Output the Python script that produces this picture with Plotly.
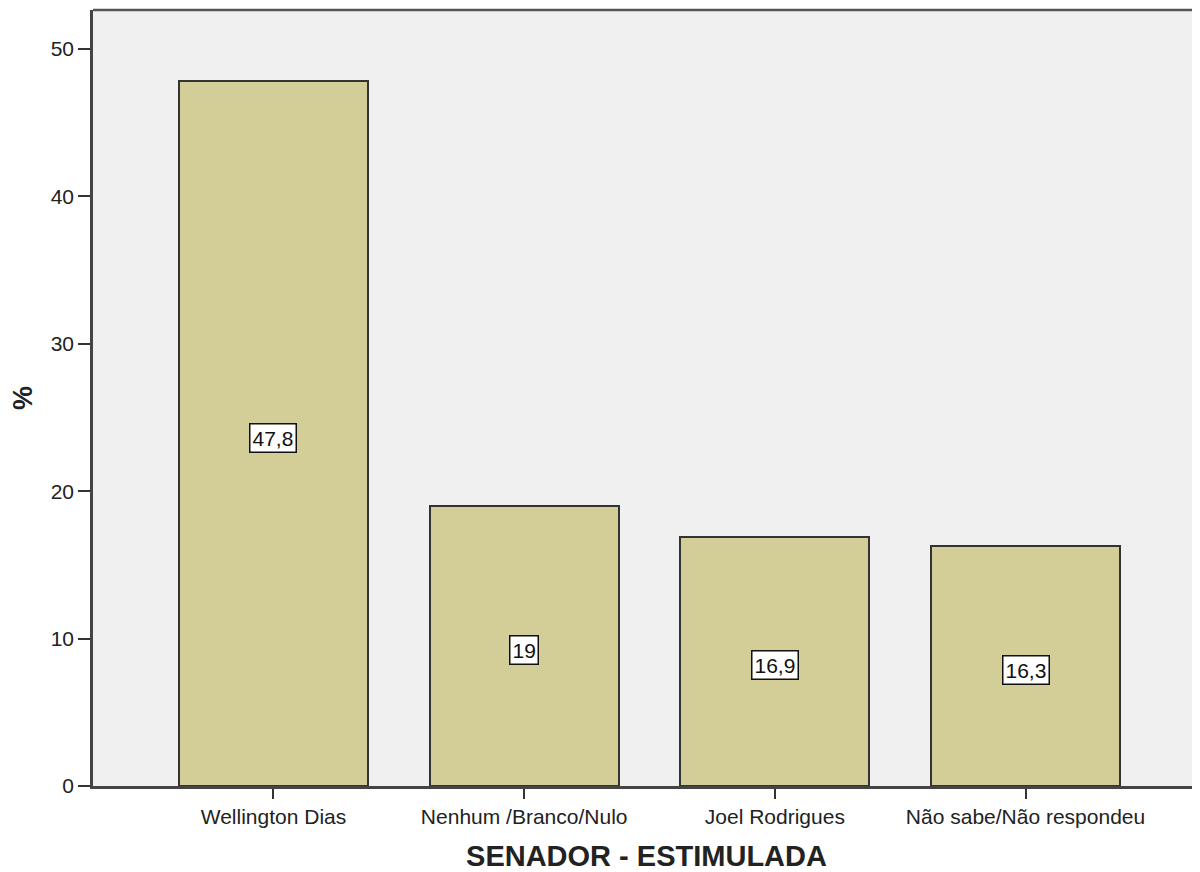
import plotly.graph_objects as go

categories = ["Wellington Dias", "Nenhum /Branco/Nulo", "Joel Rodrigues", "Não sabe/Não respondeu"]
values = [47.8, 19.0, 16.9, 16.3]
y_ticks = [0, 10, 20, 30, 40, 50]

def fmt(v):
    s = ("%.1f" % v).rstrip("0").rstrip(".")
    return s.replace(".", ",")

FONT = "Liberation Sans, Arial, sans-serif"

fig = go.Figure()
fig.add_trace(go.Bar(
    x=list(range(len(categories))),
    y=values,
    width=0.754,
    marker=dict(color="#D3CE98", line=dict(color="#333333", width=2)),
    hoverinfo="skip",
))

for i, v in enumerate(values):
    fig.add_annotation(
        x=i, y=v / 2, text=fmt(v), showarrow=False, yshift=-4,
        font=dict(family=FONT, size=21, color="#111"),
        bgcolor="white", bordercolor="#111", borderwidth=1.5, borderpad=2,
    )

fig.update_layout(
    width=1192, height=864,
    margin=dict(l=85, r=0, t=2, b=86),
    paper_bgcolor="white", plot_bgcolor="#F0F0F0",
    showlegend=False,
    bargap=0,
    font=dict(family=FONT, size=21, color="#222"),
    xaxis=dict(
        range=[-0.72, 3.696],
        tickmode="array", tickvals=list(range(len(categories))), ticktext=categories,
        ticks="outside", ticklen=10, tickcolor="#333", tickwidth=2,
        showline=True, linecolor="#444", linewidth=2.5, mirror=False,
        showgrid=False, zeroline=False,
        tickfont=dict(family=FONT, size=21, color="#222"),
        title=dict(text="<b>SENADOR - ESTIMULADA</b>", font=dict(family=FONT, size=29, color="#222"), standoff=20),
    ),
    yaxis=dict(
        range=[0, 52.65],
        tickmode="array", tickvals=y_ticks, ticktext=[str(t) for t in y_ticks],
        ticks="outside", ticklen=12, tickcolor="#333", tickwidth=2,
        showline=True, linecolor="#444", linewidth=2.5, mirror=False,
        showgrid=False, zeroline=False,
        tickfont=dict(family=FONT, size=21, color="#222"),
        title=dict(text="<b>%</b>", font=dict(family=FONT, size=27, color="#222"), standoff=22),
    ),
    shapes=[dict(type="line", xref="paper", yref="paper", x0=0, x1=1, y0=1, y1=1,
                 line=dict(color="#555", width=2.5))],
)

fig.write_html("out.html")
